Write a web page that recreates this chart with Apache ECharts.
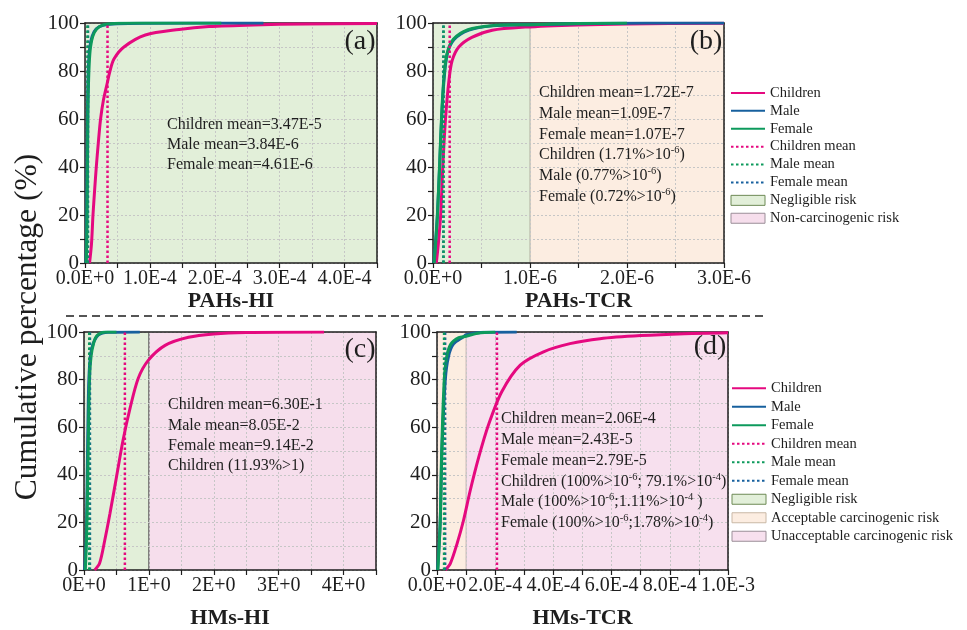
<!DOCTYPE html>
<html>
<head>
<meta charset="utf-8">
<title>Cumulative percentage</title>
<script src="https://cdn.jsdelivr.net/npm/echarts@6.0.0/dist/echarts.min.js"></script>
<style>
  html, body { margin: 0; padding: 0; background: #fff; }
  #main { width: 967px; height: 630px; }
</style>
</head>
<body>
<div id="main"></div>
<script>
// ---- values: [risk value, cumulative %] ----
var childA = [[7e-6,0],[1.0e-5,8],[1.23e-5,20],[1.5e-5,31],[1.74e-5,40],[2.05e-5,50],[2.4e-5,60],[2.85e-5,68],[3.43e-5,75],[3.85e-5,80],[4.46e-5,85],[6.0e-5,90],[9.3e-5,95],[1.45e-4,97.3],[1.91e-4,98.5],[2.6e-4,99.2],[3.4e-4,99.6],[4.5e-4,99.8]];
var maleA = [[1.5e-6,0],[2.3e-6,10],[2.9e-6,30],[3.4e-6,50],[4.2e-6,70],[5.5e-6,83],[7.5e-6,90],[1.1e-5,94.5],[1.7e-5,97.5],[2.8e-5,99],[5e-5,99.7],[1e-4,99.9],[2.75e-4,100]];
var femaleA = [[1.8e-6,0],[2.8e-6,10],[3.5e-6,30],[4.1e-6,50],[5e-6,70],[6.5e-6,83],[8.5e-6,90],[1.2e-5,94.5],[1.8e-5,97.5],[2.8e-5,99.2],[4.5e-5,99.8],[8e-5,100],[2.1e-4,100]];

var childB = [[3.4e-8,0],[5.5e-8,8],[7.9e-8,20],[1.02e-7,41],[1.3e-7,60.7],[1.64e-7,76],[1.98e-7,84.4],[2.66e-7,90],[4.0e-7,94],[6.1e-7,97],[9.5e-7,98.3],[1.5e-6,99.2],[2.0e-6,99.6],[3.0e-6,99.9]];
var maleB = [[1e-8,0],[2.5e-8,8],[4.5e-8,20],[6.9e-8,41],[8.9e-8,60],[1.13e-7,76],[1.47e-7,87],[2.15e-7,93],[3.7e-7,97],[6.1e-7,98.8],[1.0e-6,99.3],[1.5e-6,99.7],[2.2e-6,100],[3e-6,100]];
var femaleB = [[1.2e-8,0],[2.7e-8,8],[4.6e-8,20],[6.8e-8,41],[8.7e-8,60],[1.1e-7,76],[1.43e-7,87],[2.1e-7,93.2],[3.6e-7,97.2],[6.0e-7,98.9],[1.0e-6,99.3],[1.5e-6,99.8],[2.0e-6,100]];

var childC = [[0.165,0],[0.24,2.8],[0.32,12.5],[0.40,23.7],[0.50,39],[0.60,54.3],[0.71,68],[0.835,80.5],[0.99,88.1],[1.25,94.4],[1.61,97.8],[2.0,99.2],[2.5,99.8],[3.7,100]];
var maleC = [[0.01,0],[0.03,10],[0.04,20],[0.05,40],[0.06,60],[0.075,80],[0.1,90],[0.14,95],[0.22,98.7],[0.37,99.9],[0.86,100]];
var femaleC = [[0.02,0],[0.035,10],[0.045,20],[0.058,40],[0.07,60],[0.085,80],[0.11,90],[0.15,95.5],[0.2,98.5],[0.33,100],[0.5,100]];

var childD = [[2.85e-5,0],[4.6e-5,2.8],[6.9e-5,11.1],[9.1e-5,20.8],[1.14e-4,33.3],[1.43e-4,47.2],[1.77e-4,61],[2.23e-4,75],[2.86e-4,86.1],[3.66e-4,91.7],[4.57e-4,95.1],[5.6e-4,97.2],[7e-4,98.5],[8.5e-4,99.3],[1e-3,99.7]];
var maleD = [[2e-6,0],[1.1e-5,20],[1.7e-5,50],[2.85e-5,80],[4e-5,90],[5.7e-5,95],[9.1e-5,98],[1e-4,98.9],[1.6e-4,99.9],[2.74e-4,100]];
var femaleD = [[3e-6,0],[1.1e-5,20],[1.6e-5,50],[2.5e-5,80],[3.4e-5,90],[4.8e-5,95],[7.5e-5,97.6],[1e-4,98.2],[1.4e-4,99.5],[2e-4,100]];

// means: children, male, female
var meansA = [3.47e-5, 3.84e-6, 4.61e-6];
var meansB = [1.72e-7, 1.09e-7, 1.07e-7];
var meansC = [0.630, 0.0805, 0.0914];
var meansD = [2.06e-4, 2.43e-5, 2.79e-5];

// risk bands [name, from, to]
var regionsA = [['Negligible risk', 0, 4.5e-4]];
var regionsB = [['Negligible risk', 0, 1e-6], ['Acceptable carcinogenic risk', 1e-6, 3e-6]];
var regionsC = [['Negligible risk', 0, 1], ['Non-carcinogenic risk', 1, 4.5]];
var regionsD = [['Negligible risk', 0, 1e-6], ['Acceptable carcinogenic risk', 1e-6, 1e-4], ['Unacceptable carcinogenic risk', 1e-4, 1e-3]];
var boundsB = [1e-6], boundsC = [1], boundsD = [1e-4];

// tick labels
var ticksA = ['0.0E+0', '1.0E-4', '2.0E-4', '3.0E-4', '4.0E-4'];
var ticksB = ['0.0E+0', '1.0E-6', '2.0E-6', '3.0E-6'];
var ticksC = ['0E+0', '1E+0', '2E+0', '3E+0', '4E+0'];
var ticksD = ['0.0E+0', '2.0E-4', '4.0E-4', '6.0E-4', '8.0E-4', '1.0E-3'];
var ticksY = ['0', '20', '40', '60', '80', '100'];

var notesA = ['Children mean=3.47E-5', 'Male mean=3.84E-6', 'Female mean=4.61E-6'];
var notesB = ['Children mean=1.72E-7', 'Male mean=1.09E-7', 'Female mean=1.07E-7',
  'Children (1.71%>10{s|-6})', 'Male (0.77%>10{s|-6})', 'Female (0.72%>10{s|-6})'];
var notesC = ['Children mean=6.30E-1', 'Male mean=8.05E-2', 'Female mean=9.14E-2', 'Children (11.93%>1)'];
var notesD = ['Children mean=2.06E-4', 'Male mean=2.43E-5', 'Female mean=2.79E-5',
  'Children (100%>10{s|-6}; 79.1%>10{s|-4})', 'Male (100%>10{s|-6};1.11%>10{s|-4} )', 'Female (100%>10{s|-6};1.78%>10{s|-4})'];

// ---- styles ----
var FONT = 'Liberation Serif';
var INK = '#1e1e1e';
var C_CHILD = '#e5097f', C_MALE = '#17609e', C_FEMALE = '#0d9a5c';
var bandStyle = {
  'Negligible risk': { fill: '#e2efd9', border: '#6d8a55' },
  'Non-carcinogenic risk': { fill: '#f6deec', border: '#9b8e98' },
  'Acceptable carcinogenic risk': { fill: '#fcede1', border: '#c9b8a6' },
  'Unacceptable carcinogenic risk': { fill: '#f7e0ee', border: '#9b8e98' }
};

var panels = [
  { grid: { left: 85, top: 23, width: 292, height: 240 }, max: 4.5e-4, step: 0.5e-4, labelStep: 1e-4, ticks: ticksA,
    name: 'PAHs-HI', nameGap: 26, curves: [childA, maleA, femaleA], means: meansA, regions: regionsA, bounds: [], boundColor: '#555',
    tag: '(a)', tagPos: [360, 42], notes: notesA, notePos: [167, 125, 20] },
  { grid: { left: 433, top: 23, width: 291, height: 240 }, max: 3e-6, step: 0.5e-6, labelStep: 1e-6, ticks: ticksB,
    name: 'PAHs-TCR', nameGap: 26, curves: [childB, maleB, femaleB], means: meansB, regions: regionsB, bounds: boundsB, boundColor: '#b9b9a8',
    tag: '(b)', tagPos: [706, 42], notes: notesB, notePos: [539, 93, 20.7] },
  { grid: { left: 84, top: 332, width: 292, height: 240 }, max: 4.5, step: 0.5, labelStep: 1, ticks: ticksC,
    name: 'HMs-HI', nameGap: 37, curves: [childC, maleC, femaleC], means: meansC, regions: regionsC, bounds: boundsC, boundColor: '#555',
    tag: '(c)', tagPos: [360, 350], notes: notesC, notePos: [168, 405, 20.3] },
  { grid: { left: 437, top: 332, width: 291, height: 240 }, max: 1e-3, step: 1e-4, labelStep: 2e-4, ticks: ticksD,
    name: 'HMs-TCR', nameGap: 37, curves: [childD, maleD, femaleD], means: meansD, regions: regionsD, bounds: boundsD, boundColor: '#cdbcbc',
    tag: '(d)', tagPos: [710, 347], notes: notesD, notePos: [501, 419, 20.8] }
];

var grids = [], xAxes = [], yAxes = [], series = [], graphics = [];
var gridLine = { show: true, lineStyle: { color: '#c6c6c6', type: [2, 2], width: 1 } };
var axisLine = { show: true, onZero: false, lineStyle: { color: INK, width: 1.5 } };

panels.forEach(function (p, i) {
  grids.push(p.grid);
  xAxes.push({
    type: 'value', gridIndex: i, min: 0, max: p.max, interval: p.step, position: 'bottom', z: 3,
    axisLine: axisLine,
    axisTick: { show: true, length: 5, lineStyle: { color: INK, width: 1.2 } },
    axisLabel: {
      fontFamily: FONT, fontSize: 20, color: INK, margin: 6,
      formatter: function (v) {
        var k = v / p.labelStep, r = Math.round(k);
        if (Math.abs(k - r) > 1e-6) return '';
        return p.ticks[r] || '';
      }
    },
    splitLine: gridLine,
    name: p.name, nameLocation: 'middle', nameGap: p.nameGap,
    nameTextStyle: { fontFamily: FONT, fontSize: 22, fontWeight: 'bold', color: INK }
  });
  xAxes.push({
    type: 'value', gridIndex: i, min: 0, max: 1, position: 'top', z: 3,
    axisLine: axisLine, axisTick: { show: false }, axisLabel: { show: false }, splitLine: { show: false }
  });
  yAxes.push({
    type: 'value', gridIndex: i, min: 0, max: 100, interval: 10, position: 'left', z: 3,
    axisLine: axisLine,
    axisTick: { show: true, length: 5, lineStyle: { color: INK, width: 1.2 } },
    axisLabel: {
      fontFamily: FONT, fontSize: 21, color: INK, margin: 6,
      formatter: function (v) { return v % 20 === 0 ? ticksY[v / 20] : ''; }
    },
    splitLine: gridLine
  });
  yAxes.push({
    type: 'value', gridIndex: i, min: 0, max: 1, position: 'right', z: 3,
    axisLine: axisLine, axisTick: { show: false }, axisLabel: { show: false }, splitLine: { show: false }
  });

  var xi = 2 * i, yi = 2 * i;
  // risk bands
  p.regions.forEach(function (r) {
    var st = bandStyle[r[0]];
    series.push({
      type: 'line', name: r[0], xAxisIndex: xi, yAxisIndex: yi, z: 1, silent: true,
      data: [[r[1], 100], [r[2], 100]], symbol: 'none',
      lineStyle: { width: 0 }, itemStyle: { color: st.fill },
      areaStyle: { color: st.fill, opacity: 1, origin: 'start' }
    });
  });
  p.bounds.forEach(function (b) {
    series.push({
      type: 'line', xAxisIndex: xi, yAxisIndex: yi, z: 2, silent: true,
      data: [[b, 0], [b, 100]], symbol: 'none',
      lineStyle: { color: p.boundColor, width: 1.2 }
    });
  });
  // cumulative curves
  var names = ['Children', 'Male', 'Female'];
  var cols = [C_CHILD, C_MALE, C_FEMALE];
  p.curves.forEach(function (c, k) {
    series.push({
      type: 'line', name: names[k], xAxisIndex: xi, yAxisIndex: yi, z: 5,
      data: c, symbol: 'none', smooth: 0.3,
      lineStyle: { color: cols[k], width: 3 }, itemStyle: { color: cols[k] }
    });
  });
  // mean lines (female blue first, male green, children pink on top)
  var meanDefs = [['Female mean', p.means[2], C_MALE], ['Male mean', p.means[1], C_FEMALE], ['Children mean', p.means[0], C_CHILD]];
  meanDefs.forEach(function (m) {
    series.push({
      type: 'line', name: m[0], xAxisIndex: xi, yAxisIndex: yi, z: 6,
      data: [[m[1], 0], [m[1], 100]], symbol: 'none',
      lineStyle: { color: m[2], width: 2.5, type: [2.5, 2.5] }, itemStyle: { color: m[2] }
    });
  });

  graphics.push({
    type: 'text', x: p.tagPos[0], y: p.tagPos[1], z: 10,
    style: { text: p.tag, fontFamily: FONT, fontSize: 28, fill: INK, textAlign: 'center', textVerticalAlign: 'middle' }
  });
  p.notes.forEach(function (t, k) {
    graphics.push({
      type: 'text', x: p.notePos[0], y: p.notePos[1] + k * p.notePos[2], z: 10,
      style: {
        text: t, fontFamily: FONT, fontSize: 16, fill: INK, lineHeight: 20,
        textAlign: 'left', textVerticalAlign: 'middle',
        rich: { s: { fontFamily: FONT, fontSize: 10.5, fill: INK, verticalAlign: 'top' } }
      }
    });
  });
});

graphics.push({
  type: 'text', x: 28, y: 327, rotation: Math.PI / 2, z: 10,
  style: { text: 'Cumulative percentage (%)', fontFamily: FONT, fontSize: 31.5, fill: INK, textAlign: 'center', textVerticalAlign: 'middle' }
});
graphics.push({
  type: 'line', z: 10, shape: { x1: 66, y1: 316, x2: 765, y2: 316 },
  style: { stroke: INK, lineWidth: 1.3, lineDash: [8, 5] }
});

// line items: hide the legend symbol, keep only the stroke
function lineItem(name) {
  return { name: name, itemStyle: { opacity: 0 } };
}
function bandItem(name) {
  var st = bandStyle[name];
  return { name: name, icon: 'rect', itemStyle: { color: st.fill, borderColor: st.border, borderWidth: 1, opacity: 1 } };
}
var legendText = { fontFamily: FONT, fontSize: 14.5, color: INK };
var lineNames = ['Children', 'Male', 'Female', 'Children mean', 'Male mean', 'Female mean'];

var option = {
  animation: false,
  backgroundColor: '#fff',
  grid: grids,
  xAxis: xAxes,
  yAxis: yAxes,
  legend: [
    {
      left: 725, top: 79, orient: 'vertical', itemWidth: 34, itemHeight: 10, itemGap: 0, selectedMode: false,
      textStyle: Object.assign({ lineHeight: 17.9 }, legendText),
      data: lineNames.map(lineItem).concat([bandItem('Negligible risk'), bandItem('Non-carcinogenic risk')])
    },
    {
      left: 726, top: 374, orient: 'vertical', itemWidth: 34, itemHeight: 10, itemGap: 0, selectedMode: false,
      textStyle: Object.assign({ lineHeight: 18.5 }, legendText),
      data: lineNames.map(lineItem).concat([bandItem('Negligible risk'), bandItem('Acceptable carcinogenic risk'), bandItem('Unacceptable carcinogenic risk')])
    }
  ],
  graphic: graphics,
  series: series
};

var chart = echarts.init(document.getElementById('main'), null, { renderer: 'canvas' });
chart.setOption(option);
</script>
</body>
</html>
